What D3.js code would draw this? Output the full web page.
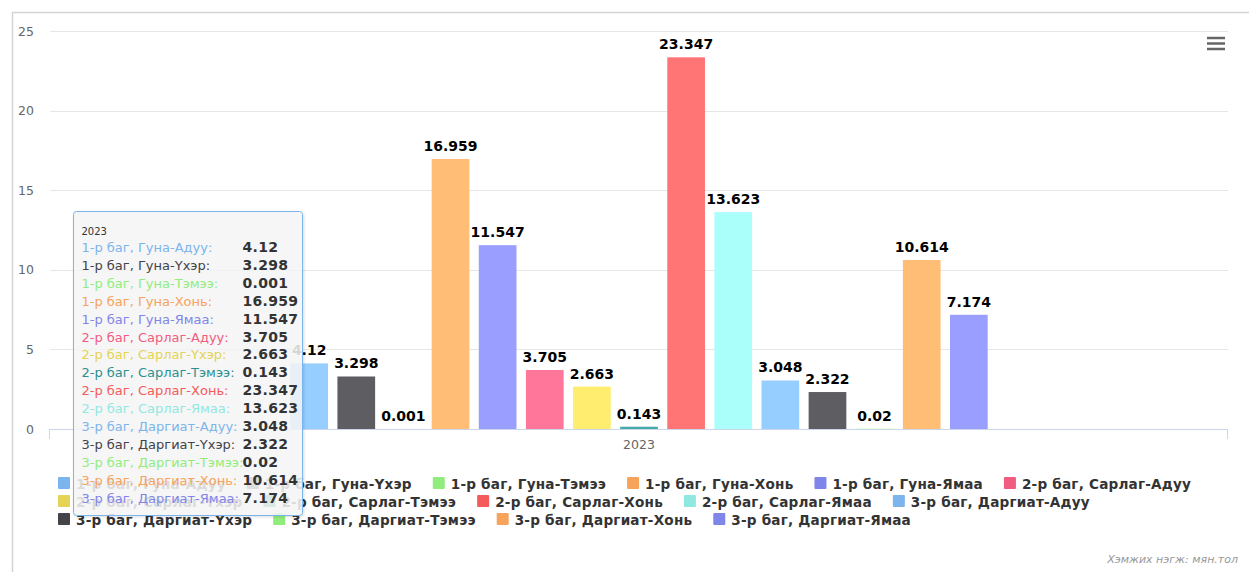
<!DOCTYPE html>
<html><head><meta charset="utf-8">
<script src="https://cdn.jsdelivr.net/npm/d3@7"></script>
<style>
html,body{margin:0;padding:0;background:#fff;overflow:hidden;}
svg{display:block;font-family:"DejaVu Sans",Verdana,sans-serif;}
</style></head>
<body>
<svg id="c" width="1249" height="572"></svg>
<script>
const categories = ["2023"];
const seriesNames = [
  "1-р баг, Гуна-Адуу","1-р баг, Гуна-Үхэр","1-р баг, Гуна-Тэмээ","1-р баг, Гуна-Хонь","1-р баг, Гуна-Ямаа",
  "2-р баг, Сарлаг-Адуу","2-р баг, Сарлаг-Үхэр","2-р баг, Сарлаг-Тэмээ","2-р баг, Сарлаг-Хонь","2-р баг, Сарлаг-Ямаа",
  "3-р баг, Даргиат-Адуу","3-р баг, Даргиат-Үхэр","3-р баг, Даргиат-Тэмээ","3-р баг, Даргиат-Хонь","3-р баг, Даргиат-Ямаа"
];
const values = [4.12,3.298,0.001,16.959,11.547,3.705,2.663,0.143,23.347,13.623,3.048,2.322,0.02,10.614,7.174];
const yTicks = [0,5,10,15,20,25];
const palette = ["#7cb5ec","#434348","#90ed7d","#f7a35c","#8085e9","#f15c80","#e4d354","#2b908f","#f45b5b","#91e8e1"];
const creditText = "Хэмжих нэгж: мян.тол";

const W = 1249, H = 572;
const svg = d3.select("#c");
const plot = {left:50, right:1228, top:31, bottom:429};

function colorOf(i){ return palette[i % palette.length]; }
function brighten(c){
  const r = d3.rgb(c);
  return d3.rgb(Math.min(255,r.r+25.5),Math.min(255,r.g+25.5),Math.min(255,r.b+25.5)).formatHex();
}

// chart border
svg.append("rect").attr("x",12.5).attr("y",12.5).attr("width",2000).attr("height",2000)
  .attr("fill","none").attr("stroke","#d4d4d4").attr("stroke-width",1.5);

const y = d3.scaleLinear().domain([0,25]).range([plot.bottom, plot.top]);
const x0 = d3.scaleBand().domain(categories).range([plot.left, plot.right]).padding(0);
const x1 = d3.scaleBand().domain(d3.range(seriesNames.length))
  .range([x0.bandwidth()*0.2, x0.bandwidth()*0.8]).paddingInner(0.2).paddingOuter(0.1);

// gridlines
svg.append("g").selectAll("line").data(yTicks.filter(t=>t>0)).join("line")
  .attr("x1",plot.left).attr("x2",plot.right)
  .attr("y1",d=>Math.round(y(d))+0.5).attr("y2",d=>Math.round(y(d))+0.5)
  .attr("stroke","#e6e6e6").attr("stroke-width",1);

// y labels
const yAxis = d3.axisLeft(y).tickValues(yTicks).tickSize(0).tickPadding(0);
const gy = svg.append("g").attr("transform",`translate(34,0)`).call(yAxis);
gy.select(".domain").remove();
gy.selectAll("text").attr("fill","#666").style("font-size","12.5px").style("font-family","DejaVu Sans, sans-serif");

// bars
const gBars = svg.append("g");
categories.forEach(cat=>{
  gBars.selectAll("rect.b").data(values).join("rect").attr("class","b")
    .attr("x",(d,i)=>x0(cat)+x1(i))
    .attr("width",x1.bandwidth())
    .attr("y",d=>y(d))
    .attr("height",d=>plot.bottom - y(d))
    .attr("fill",(d,i)=>brighten(colorOf(i)));
  gBars.selectAll("text.dl").data(values).join("text").attr("class","dl")
    .attr("x",(d,i)=>x0(cat)+x1(i)+x1.bandwidth()/2)
    .attr("y",d=>y(d)-8)
    .attr("text-anchor","middle")
    .style("font-size","14px").style("font-weight","bold")
    .attr("fill","#000").attr("stroke","#fff").attr("stroke-width",2).attr("stroke-linejoin","round")
    .attr("paint-order","stroke")
    .text(d=>String(d));
});

// x axis
const xAxis = d3.axisBottom(x0).tickSize(0).tickPadding(0);
const gx = svg.append("g").attr("transform",`translate(0,${plot.bottom})`).call(xAxis);
gx.select(".domain").remove();
gx.selectAll("text").attr("fill","#666").attr("dy","0").attr("y",20).style("font-size","12.5px").style("font-family","DejaVu Sans, sans-serif");
svg.append("line").attr("x1",plot.left).attr("x2",plot.right).attr("y1",plot.bottom+0.5).attr("y2",plot.bottom+0.5)
  .attr("stroke","#ccd6eb").attr("stroke-width",1);
[plot.left, plot.right].forEach(xx=>{
  svg.append("line").attr("x1",xx-0.5).attr("x2",xx-0.5).attr("y1",plot.bottom).attr("y2",plot.bottom+10)
    .attr("stroke","#ccd6eb").attr("stroke-width",1);
});

// legend
const gLeg = svg.append("g");
const items = seriesNames.map((n,i)=>{
  const g = gLeg.append("g");
  g.append("rect").attr("width",12).attr("height",12).attr("rx",1).attr("fill",colorOf(i));
  const t = g.append("text").attr("x",18).attr("y",11.5).text(n)
    .style("font-size","13.6px").style("font-weight","bold").style("letter-spacing","0.2px").attr("fill","#333");
  return {g, w: 18 + t.node().getComputedTextLength()};
});
const maxW = 1190, dist = 21, rowH = 18;
let rows = [[]], cx = 0;
items.forEach(it=>{
  if (cx > 0 && cx + it.w > maxW) { rows.push([]); cx = 0; }
  it.xr = cx; rows[rows.length-1].push(it); cx += it.w + dist;
});
const rowWidths = rows.map(r=>{const l=r[r.length-1]; return l.xr + l.w;});
const lx0 = Math.round((W - d3.max(rowWidths))/2);
rows.forEach((r,ri)=>r.forEach(it=>it.g.attr("transform",`translate(${lx0+it.xr},${477+ri*rowH})`)));

// tooltip
const tt = svg.append("g").attr("transform","translate(73.5,211.5)");
const defs = svg.append("defs");
const f = defs.append("filter").attr("id","sh").attr("x","-10%").attr("y","-10%").attr("width","130%").attr("height","130%");
f.append("feDropShadow").attr("dx",1).attr("dy",1).attr("stdDeviation",1.5).attr("flood-color","#000").attr("flood-opacity",0.15);
tt.append("rect").attr("width",229).attr("height",304).attr("rx",3)
  .attr("fill","rgba(247,247,247,0.85)").attr("stroke","#7cb5ec").attr("stroke-width",1).attr("filter","url(#sh)");
tt.append("text").attr("x",8).attr("y",23).text(categories[0]).style("font-size","10px").attr("fill","#333");
seriesNames.forEach((n,i)=>{
  const yy = 40.5 + i*17.9;
  tt.append("text").attr("x",8).attr("y",yy).text(n+":").style("font-size","13px").attr("fill",colorOf(i));
  tt.append("text").attr("x",169).attr("y",yy).text(String(values[i]))
    .style("font-size","14px").style("font-weight","bold").style("letter-spacing","0.3px").attr("fill","#333");
});

// menu icon
[38,43.5,49].forEach(yy=>{
  svg.append("line").attr("x1",1207).attr("x2",1225).attr("y1",yy).attr("y2",yy)
    .attr("stroke","#666").attr("stroke-width",2.5);
});

// credits
svg.append("text").attr("x",1238).attr("y",563).attr("text-anchor","end")
  .style("font-size","11px").style("font-style","italic").attr("fill","#999").text(creditText);
</script>
</body></html>
